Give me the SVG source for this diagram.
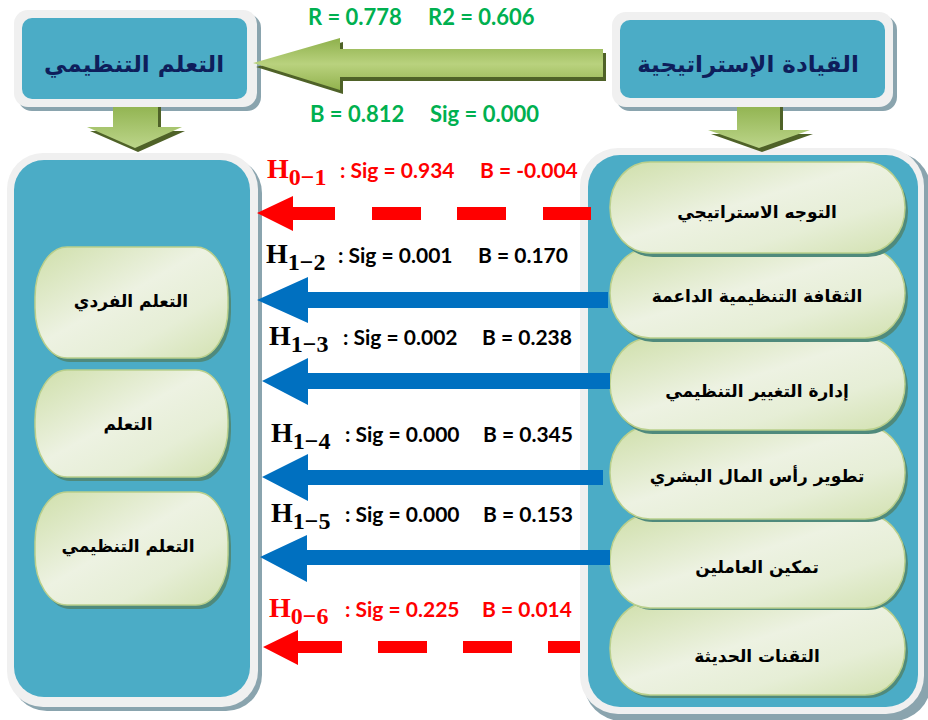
<svg xmlns="http://www.w3.org/2000/svg" width="928" height="720" viewBox="0 0 928 720">
<defs>
<linearGradient id="pillG" x1="0" y1="0" x2="1" y2="1">
<stop offset="0" stop-color="#CFDFAA"/>
<stop offset="0.45" stop-color="#EDF2E2"/>
<stop offset="0.7" stop-color="#E6EED6"/>
<stop offset="1" stop-color="#D2E1B0"/>
</linearGradient>
<linearGradient id="arrG" x1="0" y1="0" x2="0" y2="1">
<stop offset="0" stop-color="#8EB04B"/>
<stop offset="0.5" stop-color="#B9D27E"/>
<stop offset="1" stop-color="#92B24E"/>
</linearGradient>
<linearGradient id="downG" x1="0" y1="0" x2="0" y2="1">
<stop offset="0" stop-color="#93B553"/>
<stop offset="1" stop-color="#BCD58A"/>
</linearGradient>
</defs>
<style>
.frame{fill:#F0F0F0}
.shadow{fill:#8AA4AE}
.blue{fill:#4BACC6}
.pill{fill:url(#pillG);stroke:#B9CF8C;stroke-width:1.5}
.pshadow{fill:#4F8A7C}
.title{font-family:"DejaVu Sans",sans-serif;font-weight:bold;font-size:23px;fill:#0E1E5B;text-anchor:middle}
.ptxt{font-family:"DejaVu Sans",sans-serif;font-weight:bold;font-size:17px;fill:#000;text-anchor:middle}
.stat{font-family:Lato,"Liberation Sans",sans-serif;font-weight:bold;font-size:22px;fill:#00B050}
.h{font-family:"Liberation Serif",serif;font-weight:bold;font-size:28px}
.sub{font-size:24px}
.lab{font-family:Lato,"Liberation Sans",sans-serif;font-weight:bold;font-size:21px}
.red{fill:#FF0000}
.blk{fill:#000}
.ablue{fill:#0070C0}
.ared{fill:#FF0000}
</style>
<rect width="928" height="720" fill="#FFFFFF"/>

<g id="org-learning-top">
<rect class="shadow" x="18" y="14" width="243" height="97" rx="14"/>
<rect class="frame" x="14" y="10" width="243" height="97" rx="14"/>
<rect class="blue" x="22" y="18" width="225" height="81" rx="10"/>
<text class="title" x="134" y="72">التعلم التنظيمي</text>
</g>

<g id="strategic-leadership-top">
<rect class="shadow" x="616" y="16" width="281" height="95" rx="14"/>
<rect class="frame" x="612" y="12" width="281" height="95" rx="14"/>
<rect class="blue" x="620" y="20" width="265" height="78" rx="10"/>
<text class="title" x="748" y="72">القيادة الإستراتيجية</text>
</g>

<g id="left-panel">
<rect class="shadow" x="11" y="157" width="251" height="554" rx="36"/>
<rect class="frame" x="7" y="153" width="251" height="554" rx="36"/>
<rect class="blue" x="14" y="160" width="236" height="537" rx="30"/>
</g>
<g id="individual-learning">
<rect class="pshadow" x="38" y="251" width="193" height="111" rx="32" ry="50"/>
<rect class="pill" x="35" y="247" width="193" height="111" rx="32" ry="50"/>
<text class="ptxt" x="131" y="307">التعلم الفردي</text>
</g>
<g id="learning">
<rect class="pshadow" x="38" y="374" width="193" height="107" rx="32" ry="50"/>
<rect class="pill" x="35" y="370" width="193" height="107" rx="32" ry="50"/>
<text class="ptxt" x="128" y="430">التعلم</text>
</g>
<g id="organizational-learning">
<rect class="pshadow" x="38" y="496" width="193" height="113" rx="32" ry="50"/>
<rect class="pill" x="35" y="492" width="193" height="113" rx="32" ry="50"/>
<text class="ptxt" x="128" y="552">التعلم التنظيمي</text>
</g>

<g id="right-panel">
<rect class="shadow" x="584" y="152" width="347" height="569" rx="38"/>
<rect class="frame" x="580" y="148" width="344" height="566" rx="38"/>
<rect class="blue" x="588" y="155" width="330" height="552" rx="32"/>
</g>
<g id="modern-tech">
<rect class="pshadow" x="613" y="606" width="295" height="92" rx="40" ry="46"/>
<rect class="pill" x="610" y="602" width="295" height="93" rx="40" ry="46"/>
<text class="ptxt" x="757" y="662">التقنات الحديثة</text>
</g>
<g id="empowerment">
<rect class="pshadow" x="613" y="518" width="295" height="92" rx="40" ry="46"/>
<rect class="pill" x="610" y="514" width="295" height="94" rx="40" ry="46"/>
<text class="ptxt" x="757" y="573">تمكين العاملين</text>
</g>
<g id="human-capital">
<rect class="pshadow" x="613" y="430" width="295" height="92" rx="40" ry="46"/>
<rect class="pill" x="610" y="426" width="295" height="93" rx="40" ry="46"/>
<text class="ptxt" x="757" y="482">تطوير رأس المال البشري</text>
</g>
<g id="change-management">
<rect class="pshadow" x="613" y="342" width="295" height="92" rx="40" ry="46"/>
<rect class="pill" x="610" y="338" width="295" height="92" rx="40" ry="46"/>
<text class="ptxt" x="757" y="397">إدارة التغيير التنظيمي</text>
</g>
<g id="supportive-culture">
<rect class="pshadow" x="613" y="252" width="295" height="90" rx="40" ry="45"/>
<rect class="pill" x="610" y="248" width="295" height="90" rx="40" ry="45"/>
<text class="ptxt" x="757" y="302">الثقافة التنظيمية الداعمة</text>
</g>
<g id="strategic-orientation">
<rect class="pshadow" x="613" y="166" width="295" height="91" rx="40" ry="45"/>
<rect class="pill" x="610" y="162" width="295" height="91" rx="40" ry="45"/>
<text class="ptxt" x="757" y="218">التوجه الاستراتيجي</text>
</g>

<g id="connectors">
<polygon points="256,67 343,42 343,53 606,53 606,81 343,81 343,94" fill="#4F6228"/>
<polygon points="253,63 340,38 340,49 603,49 603,77 340,77 340,90" fill="url(#arrG)"/>
<polygon points="116,107 161,107 161,131 185,131 138,152 90,131 116,131" fill="#4F6228"/>
<polygon points="113,107 158,107 158,127 182,127 135,148 87,127 113,127" fill="url(#downG)"/>
<polygon points="740,107 783,107 783,134 813,134 762,152 711,134 740,134" fill="#4F6228"/>
<polygon points="737,107 780,107 780,130 810,130 759,148 708,130 737,130" fill="url(#downG)"/>
<polygon class="ared" points="257,213 293,196 293,207 335,207 335,220 293,220 293,231"/>
<rect class="ared" x="372" y="207" width="49" height="13"/>
<rect class="ared" x="457" y="207" width="49" height="13"/>
<rect class="ared" x="543" y="207" width="48" height="13"/>
<polygon class="ablue" points="257,300 308,277 308,292 608,292 608,308 308,308 308,323"/>
<polygon class="ablue" points="262,381 308,358 308,373 610,373 610,389 308,389 308,405"/>
<polygon class="ablue" points="262,477 308,454 308,470 603,470 603,485 308,485 308,501"/>
<polygon class="ablue" points="260,557 307,535 307,550 610,550 610,565 307,565 307,582"/>
<polygon class="ared" points="263,647 298,630 298,641 342,641 342,653 298,653 298,665"/>
<rect class="ared" x="378" y="641" width="49" height="12"/>
<rect class="ared" x="463" y="641" width="49" height="12"/>
<rect class="ared" x="548" y="641" width="32" height="12"/>
</g>

<g id="stats">
<text class="stat" x="308" y="25">R = 0.778</text>
<text class="stat" x="428" y="25">R2 = 0.606</text>
<text class="stat" x="310" y="122">B = 0.812</text>
<text class="stat" x="430" y="122">Sig = 0.000</text>
</g>

<g id="labels">
<text class="h red" x="267" y="178">H<tspan class="sub" dy="7">0−1</tspan></text>
<text class="lab red" x="340" y="178">: Sig = 0.934</text>
<text class="lab red" x="480" y="178">B = -0.004</text>
<text class="h blk" x="266" y="263">H<tspan class="sub" dy="7">1−2</tspan></text>
<text class="lab blk" x="338" y="263">: Sig = 0.001</text>
<text class="lab blk" x="478" y="263">B = 0.170</text>
<text class="h blk" x="269" y="345">H<tspan class="sub" dy="7">1−3</tspan></text>
<text class="lab blk" x="343" y="345">: Sig = 0.002</text>
<text class="lab blk" x="482" y="345">B = 0.238</text>
<text class="h blk" x="271" y="442">H<tspan class="sub" dy="7">1−4</tspan></text>
<text class="lab blk" x="345" y="442">: Sig = 0.000</text>
<text class="lab blk" x="483" y="442">B = 0.345</text>
<text class="h blk" x="271" y="522">H<tspan class="sub" dy="7">1−5</tspan></text>
<text class="lab blk" x="345" y="522">: Sig = 0.000</text>
<text class="lab blk" x="483" y="522">B = 0.153</text>
<text class="h red" x="269" y="617">H<tspan class="sub" dy="7">0−6</tspan></text>
<text class="lab red" x="345" y="617">: Sig = 0.225</text>
<text class="lab red" x="482" y="617">B = 0.014</text>
</g>
</svg>
